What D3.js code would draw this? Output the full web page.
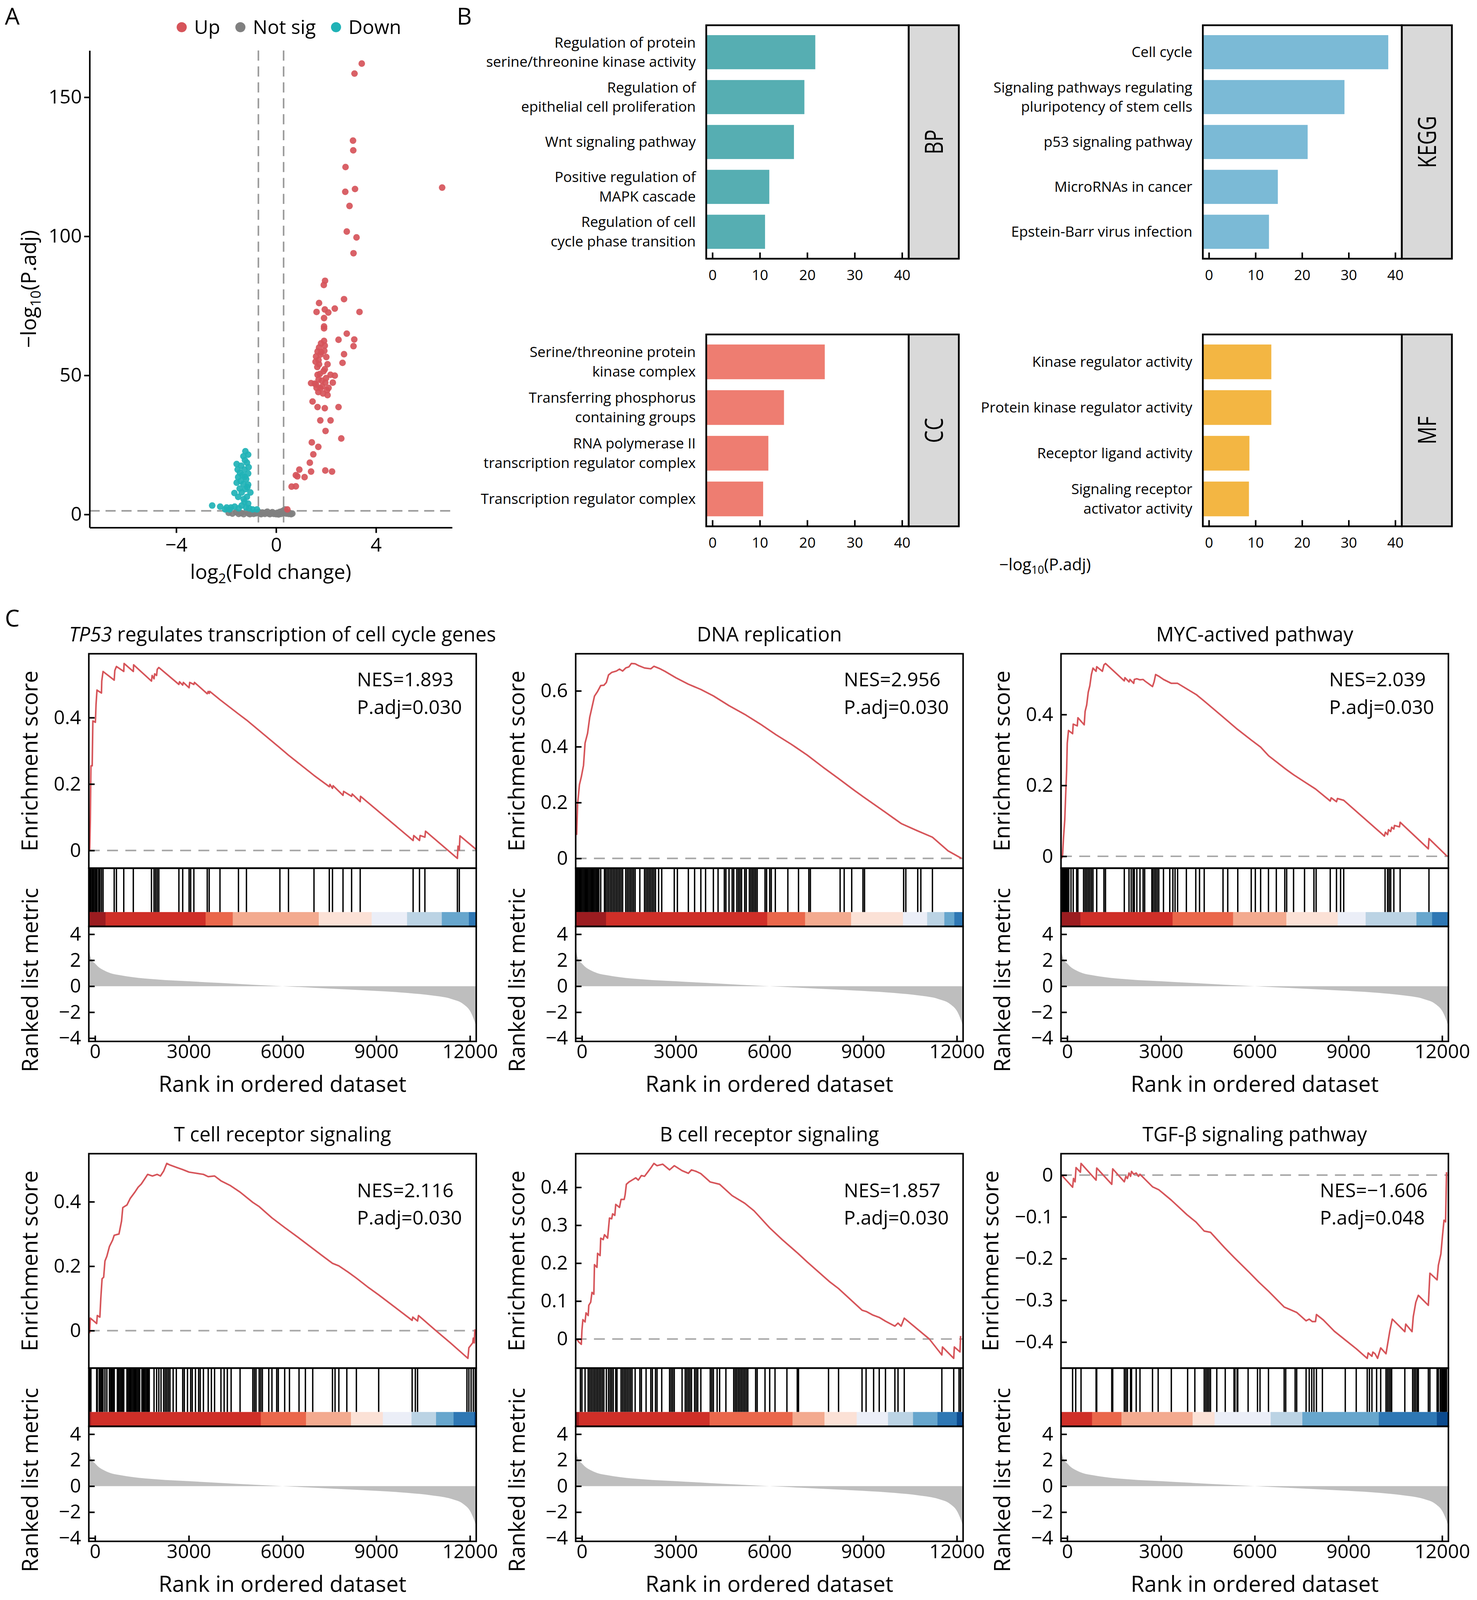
<!DOCTYPE html>
<html>
<head>
<meta charset="utf-8">
<script src="https://cdn.jsdelivr.net/npm/d3@7"></script>
<style>
  html, body { margin: 0; padding: 0; background: #fff; overflow: hidden; }
  #fig { display: block; width: 100vw; height: 100vh; }
  svg text { font-family: "Open Sans", sans-serif; fill: #000; }
</style>
</head>
<body>
<svg id="fig" viewBox="0 0 3780 4119" preserveAspectRatio="xMidYMin meet"></svg>
<script>
// ---------- A: volcano (log2 fold change, -log10 adjusted p) ----------
var volcanoUp = [
  [3.43,162.1],[3.14,158.5],[3.08,134.4],[3.09,130.9],[2.78,124.9],[6.65,117.5],[2.77,116.0],[3.16,117.0],
  [2.94,110.9],[2.83,101.7],[3.22,99.6],[3.10,93.9],[1.96,84.0],[1.91,82.5],[2.72,77.4],[1.72,76.0],
  [1.62,72.8],[1.95,73.7],[2.09,72.6],[2.35,74.0],[3.34,72.8],[1.92,70.6],[1.92,67.6],[1.92,66.9],
  [2.83,65.0],[2.50,62.8],[3.13,62.9],[1.92,62.4],[3.10,60.5],[1.72,60.0],[1.95,60.7],[1.66,58.6],
  [1.81,58.3],[1.60,56.8],[2.01,56.6],[1.58,54.9],[2.72,57.6],[1.72,54.0],[2.06,54.0],[2.66,54.5],
  [1.95,52.2],[1.66,50.2],[2.18,50.2],[2.35,49.9],[1.83,48.1],[1.40,47.2],[1.60,46.7],[1.97,47.4],
  [2.27,47.4],[1.77,45.4],[1.69,44.0],[2.04,44.7],[2.06,42.9],[1.46,40.6],[1.66,38.6],[1.95,38.2],
  [2.50,38.6],[1.77,33.8],[2.18,33.8],[1.98,30.0],[2.61,27.3],[1.43,25.9],[1.69,24.3],[1.49,21.6],
  [1.35,18.6],[0.93,16.1],[1.97,15.8],[2.24,15.4],[1.40,15.4],[0.79,14.1],[0.85,13.7],[1.14,13.4],
  [0.62,10.0],[0.79,10.1],[0.45,1.8],[1.75,50.5],[1.85,46.0],[1.55,47.0],[1.90,51.5],[1.70,55.5],
  [1.80,61.5],[1.65,53.0],[2.00,49.0],[1.88,43.5],[1.62,45.5],[1.78,57.5],[1.93,58.8],[2.10,45.5],[1.70,48.5]
];
var volcanoNotSig = [
  [-1.9,0.6],[-1.75,0.3],[-1.6,0.8],[-1.5,0.2],[-1.4,0.5],[-1.3,0.1],[-1.2,0.9],[-1.1,0.3],[-1.0,0.6],
  [-0.9,0.2],[-0.8,0.4],[-0.7,0.9],[-0.6,0.1],[-0.5,0.5],[-0.45,0.2],[-0.4,0.7],[-0.3,0.3],[-0.25,0.1],
  [-0.2,0.5],[-0.15,0.8],[-0.1,0.2],[-0.05,0.4],[0,0.1],[0.05,0.6],[0.1,0.3],[0.15,0.9],[0.2,0.2],
  [0.25,1.2],[0.3,0.5],[0.35,1.8],[0.4,0.3],[0.45,0.7],[0.5,0.2],[0.55,0.5],[0.6,0.1],[0.65,0.3],
  [-0.35,1.0],[-0.55,0.7],[-0.85,0.6],[-1.05,0.1],[0.1,0.0],[-0.65,0.3]
];
var volcanoDown = [
  [-1.23,22.7],[-1.12,21.5],[-1.31,20.9],[-1.58,18.1],[-1.17,18.6],[-1.40,17.5],[-1.54,16.1],[-1.27,16.1],
  [-1.12,14.7],[-1.35,14.1],[-1.52,13.4],[-1.20,12.7],[-1.58,11.4],[-1.31,10.9],[-1.12,10.7],[-1.46,9.3],
  [-1.23,9.1],[-1.67,7.7],[-1.38,7.9],[-1.03,7.9],[-1.52,6.3],[-1.17,6.3],[-1.27,4.5],[-1.12,3.9],
  [-1.38,3.2],[-1.20,2.5],[-1.08,2.2],[-0.94,1.8],[-0.77,1.8],[-2.56,3.2],[-2.24,2.8],[-1.98,2.5],
  [-1.81,2.5],[-1.66,2.8],[-1.50,2.2],[-1.87,1.8],[-2.04,1.8],[-1.25,19.5],[-1.42,12.0],[-1.10,17.0],
  [-1.30,5.5],[-1.15,9.8],[-1.45,15.0],[-1.25,13.5]
];
var volcanoFcCuts = [-0.71, 0.3];
var volcanoPadjCut = 1.3;
var volcanoXTicks = [-4, 0, 4];
var volcanoYTicks = [0, 50, 100, 150];
var volcanoLegend = ["Up", "Not sig", "Down"];

// ---------- B: enrichment bars (-log10 P.adj) ----------
var bpTerms = [["Regulation of protein", "serine/threonine kinase activity"], ["Regulation of", "epithelial cell proliferation"],
  ["Wnt signaling pathway"], ["Positive regulation of", "MAPK cascade"], ["Regulation of cell", "cycle phase transition"]];
var bpValues = [21.7, 19.4, 17.2, 12.0, 11.1];
var keggTerms = [["Cell cycle"], ["Signaling pathways regulating", "pluripotency of stem cells"], ["p53 signaling pathway"],
  ["MicroRNAs in cancer"], ["Epstein-Barr virus infection"]];
var keggValues = [38.5, 29.1, 21.2, 14.8, 12.9];
var ccTerms = [["Serine/threonine protein", "kinase complex"], ["Transferring phosphorus", "containing groups"],
  ["RNA polymerase II", "transcription regulator complex"], ["Transcription regulator complex"]];
var ccValues = [23.7, 15.1, 11.8, 10.7];
var mfTerms = [["Kinase regulator activity"], ["Protein kinase regulator activity"], ["Receptor ligand activity"],
  ["Signaling receptor", "activator activity"]];
var mfValues = [13.4, 13.4, 8.7, 8.6];
var enrichTicks = [0, 10, 20, 30, 40];

// ---------- C: GSEA ----------
var gseaTitles = ["TP53 regulates transcription of cell cycle genes", "DNA replication", "MYC-actived pathway",
  "T cell receptor signaling", "B cell receptor signaling", "TGF-\u03b2 signaling pathway"];
var gseaItalic = ["TP53", "", "", "", "", ""];
var gseaNES = [1.893, 2.956, 2.039, 2.116, 1.857, -1.606];
var gseaPadj = [0.030, 0.030, 0.030, 0.030, 0.030, 0.048];
var gseaEsTicks = [[0, 0.2, 0.4], [0, 0.2, 0.4, 0.6], [0, 0.2, 0.4], [0, 0.2, 0.4], [0, 0.1, 0.2, 0.3, 0.4], [0, -0.1, -0.2, -0.3, -0.4]];
var rankTicks = [0, 3000, 6000, 9000, 12000];
var metricTicks = [4, 2, 0, -2, -4];

// shared ranked list metric [rank, metric]
var rankMetric = [[-190,2.8],[-150,2.3],[-100,2.0],[0,1.75],[100,1.5],[300,1.2],[500,1.0],[800,0.85],[1200,0.7],
  [2000,0.52],[3000,0.38],[4000,0.25],[5000,0.12],[6000,0],[7000,-0.12],[8000,-0.24],[9000,-0.36],[10000,-0.52],
  [10800,-0.72],[11400,-0.98],[11800,-1.4],[12000,-1.9],[12100,-2.4],[12200,-3.1]];

// running enrichment score [rank, ES]
var es1 = [[-173,0],[-153,0.09],[-133,0.255],[-92,0.255],[-71,0.39],[10,0.386],[31,0.44],[61,0.483],[204,0.474],[214,0.51],
  [255,0.539],[612,0.513],[632,0.542],[683,0.554],[918,0.539],[928,0.563],[1224,0.539],[1234,0.559],[1805,0.51],[1826,0.527],
  [1887,0.517],[1907,0.532],[1969,0.527],[1989,0.545],[2040,0.551],[2683,0.5],[2703,0.508],[2805,0.498],[2825,0.506],
  [3009,0.49],[3029,0.506],[3162,0.5],[3182,0.506],[3590,0.472],[3621,0.479],[3652,0.473],[3672,0.479],[3998,0.454],
  [4590,0.411],[4845,0.393],[5916,0.309],[6191,0.287],[7007,0.226],[7497,0.192],[7517,0.199],[7599,0.187],[7619,0.195],
  [7936,0.166],[7956,0.178],[8211,0.163],[8231,0.17],[8486,0.147],[8497,0.163],[10180,0.03],[10200,0.045],[10384,0.03],
  [10404,0.045],[10557,0.04],[10577,0.058],[11597,-0.024],[11618,0.013],[11659,0.001],[11679,0.044],[12199,0.003]];
var es2 = [[-170,0.084],[-140,0.194],[-80,0.264],[-20,0.292],[50,0.333],[100,0.413],[180,0.448],[250,0.506],[321,0.541],
  [401,0.581],[501,0.598],[601,0.619],[701,0.62],[781,0.63],[851,0.657],[952,0.666],[1102,0.671],[1202,0.678],[1302,0.671],
  [1402,0.682],[1503,0.686],[1583,0.698],[1703,0.697],[1803,0.691],[2003,0.682],[2204,0.679],[2304,0.688],[2504,0.679],
  [2655,0.67],[3005,0.647],[3406,0.624],[3806,0.605],[4207,0.582],[4708,0.547],[5209,0.516],[5710,0.481],[6211,0.443],
  [6711,0.408],[7212,0.37],[7713,0.327],[8214,0.286],[8715,0.244],[9015,0.22],[9716,0.165],[10217,0.125],[10718,0.1],
  [11219,0.076],[11720,0.027],[12150,0.0]];
var es3 = [[-181,-0.006],[-150,0.003],[-120,0.052],[-80,0.102],[-50,0.174],[-20,0.242],[0,0.319],[40,0.355],[171,0.346],
  [191,0.373],[321,0.368],[341,0.391],[542,0.371],[572,0.409],[622,0.427],[672,0.463],[722,0.481],[773,0.513],[823,0.531],
  [923,0.522],[943,0.535],[1124,0.522],[1174,0.54],[1224,0.544],[1826,0.495],[1846,0.504],[1977,0.492],[2007,0.499],
  [2127,0.488],[2147,0.499],[2227,0.501],[2328,0.498],[2428,0.499],[2478,0.495],[2729,0.479],[2779,0.492],[2829,0.513],
  [2930,0.508],[3080,0.499],[3331,0.488],[3532,0.488],[3833,0.472],[4134,0.456],[4384,0.438],[4986,0.393],[5438,0.359],
  [5889,0.328],[6190,0.308],[6441,0.284],[6993,0.246],[7244,0.23],[7595,0.21],[7946,0.19],[8418,0.156],[8448,0.165],
  [8618,0.154],[8648,0.163],[8849,0.158],[10153,0.057],[10183,0.068],[10253,0.061],[10283,0.075],[10353,0.07],[10384,0.082],
  [10454,0.077],[10474,0.087],[10635,0.083],[10655,0.096],[11558,0.021],[11578,0.05],[12160,0.0]];
var es4 = [[-173,-0.008],[-153,0.039],[51,0.022],[71,0.047],[153,0.042],[184,0.101],[224,0.161],[275,0.166],[316,0.216],
  [377,0.231],[459,0.261],[561,0.281],[612,0.296],[765,0.3],[847,0.34],[887,0.382],[1020,0.39],[1122,0.41],[1275,0.43],
  [1377,0.445],[1479,0.455],[1581,0.47],[1683,0.485],[1836,0.48],[1989,0.485],[2091,0.48],[2193,0.495],[2295,0.519],
  [2397,0.514],[2601,0.507],[2805,0.5],[3009,0.492],[3468,0.485],[3621,0.478],[3825,0.48],[4029,0.465],[4335,0.45],
  [4641,0.43],[5049,0.398],[5253,0.385],[5661,0.35],[6069,0.32],[6477,0.291],[6885,0.261],[7293,0.231],[7599,0.209],
  [7803,0.201],[8109,0.181],[8364,0.163],[8721,0.136],[9078,0.111],[10149,0.032],[10169,0.042],[10322,0.03],[10353,0.047],
  [10863,0.004],[11373,-0.038],[11934,-0.086],[11965,-0.053],[12087,-0.038],[12107,-0.023],[12138,-0.038],[12158,0.004]];
var es5 = [[-170,0],[-100,-0.008],[-20,-0.014],[0,0.023],[30,0.051],[100,0.045],[130,0.069],[200,0.062],[220,0.089],
  [280,0.097],[321,0.123],[381,0.118],[401,0.196],[481,0.189],[501,0.226],[581,0.22],[601,0.266],[681,0.262],[721,0.275],
  [821,0.266],[851,0.292],[881,0.319],[952,0.317],[982,0.33],[1052,0.326],[1082,0.355],[1202,0.347],[1252,0.368],
  [1352,0.368],[1382,0.38],[1422,0.408],[1503,0.414],[1603,0.419],[1723,0.425],[1803,0.419],[1903,0.431],[2003,0.429],
  [2104,0.44],[2204,0.451],[2304,0.463],[2404,0.457],[2584,0.461],[2805,0.446],[2955,0.457],[3205,0.444],[3406,0.437],
  [3506,0.446],[3656,0.442],[3806,0.436],[4107,0.414],[4407,0.408],[4808,0.378],[5209,0.358],[5509,0.338],[6010,0.293],
  [6411,0.262],[6912,0.226],[7212,0.203],[7913,0.152],[8214,0.133],[8965,0.076],[9115,0.072],[9316,0.063],[9516,0.057],
  [9716,0.047],[10017,0.034],[10117,0.042],[10217,0.034],[10317,0.055],[11119,0],[11520,-0.042],[11540,-0.021],
  [11900,-0.051],[11920,-0.021],[12100,-0.034],[12120,0.008]];
var es6 = [[-181,0],[171,-0.029],[201,-0.008],[251,-0.016],[281,0.018],[421,0.007],[441,0.028],[923,-0.012],[943,0.017],
  [1425,-0.022],[1455,0.015],[1826,-0.016],[1876,-0.003],[1926,-0.008],[1977,0.005],[2027,-0.003],[2057,0.009],[2127,0.002],
  [2207,0.005],[2278,-0.003],[2328,0.002],[2729,-0.028],[2930,-0.035],[3331,-0.06],[3833,-0.095],[4114,-0.112],[4384,-0.134],
  [4585,-0.137],[5037,-0.174],[5338,-0.197],[5839,-0.234],[6140,-0.257],[6441,-0.278],[6943,-0.316],[7344,-0.329],
  [7645,-0.349],[7745,-0.345],[7846,-0.351],[7946,-0.351],[7976,-0.334],[8197,-0.347],[8548,-0.374],[8899,-0.395],
  [9250,-0.416],[9602,-0.439],[9632,-0.426],[9752,-0.434],[9782,-0.424],[9852,-0.428],[9933,-0.439],[10033,-0.414],
  [10203,-0.428],[10324,-0.374],[10404,-0.345],[10805,-0.375],[10835,-0.357],[11036,-0.375],[11076,-0.339],[11156,-0.305],
  [11237,-0.288],[11558,-0.312],[11608,-0.235],[11839,-0.251],[11879,-0.216],[11959,-0.189],[12009,-0.147],[12059,-0.108],
  [12110,-0.112],[12140,0.007]];

// gene set member positions in the ranked list
var hits1 = [-173,-133,-92,-71,-31,10,31,61,112,153,204,255,612,683,918,1224,1805,1887,1938,1989,2040,2683,2805,3009,3060,
  3162,3590,3652,3998,4590,4845,5916,6191,7007,7497,7599,7936,8211,8486,10180,10384,10557,11597,11659];
var hits2 = [-170,-140,-100,-60,-20,20,60,100,140,180,220,260,300,341,381,421,461,501,541,601,721,751,801,851,902,952,1002,
  1052,1102,1152,1202,1252,1302,1402,1452,1503,1553,1603,1653,1703,1853,2003,2053,2104,2154,2204,2254,2304,2354,2454,2554,
  2955,3055,3406,3606,3806,3957,4207,4357,4558,4608,4708,4808,4858,4958,5009,5059,5109,5209,5259,5359,5409,5459,5509,5559,
  5609,5860,5910,6010,6060,6190,6591,6932,7262,7312,8264,8394,8635,8995,9045,10297,10367,10748,10848,11219];
var hits3 = [-191,-161,-130,-100,-70,-40,-10,20,50,120,191,301,341,522,572,622,672,722,773,823,943,1174,1224,1826,1977,2047,
  2107,2147,2227,2328,2428,2478,2709,2729,2779,2829,2879,2930,3080,3281,3381,3451,3532,3813,4114,4234,4384,4986,5137,5458,
  5889,6020,6190,6441,6692,6963,7023,7244,7595,7896,7966,8418,8618,8749,8849,10173,10253,10303,10353,10454,10655,11578];
var hits4 = [-173,-133,51,71,133,173,214,255,316,377,459,500,541,581,612,714,755,796,836,877,918,1020,1061,1102,1142,1183,
  1224,1265,1306,1346,1387,1428,1499,1540,1581,1622,1663,1703,1734,1887,1969,2040,2111,2193,2244,2295,2346,2397,2499,2601,
  2805,2856,2958,3060,3111,3213,3315,3366,3468,3621,3723,3825,4029,4131,4233,4355,4641,5049,5100,5151,5253,5304,5355,5559,
  5661,5814,5865,6069,6222,6528,6732,6967,7599,7681,7803,8058,8364,9078,10149,10251,10322,11903,11965,12036,12107,12169];
var hits5 = [-50,0,100,200,250,300,351,401,451,501,551,601,651,701,781,851,902,952,1002,1082,1122,1252,1302,1352,1402,1452,
  1503,1553,1603,1703,1853,1903,2053,2204,2254,2354,2404,2554,2805,2855,2905,2955,3205,3306,3356,3406,3456,3506,3606,3656,
  3706,3806,4107,4157,4207,4327,4407,4608,4858,4908,4958,5009,5059,5109,5159,5209,5259,5309,5559,5609,5860,6010,6180,6561,
  6892,6932,7893,8214,8965,9095,9336,9516,9716,10017,10117,10317,11520,11900,12070,12120];
var hits6 = [171,271,441,923,943,1425,1455,1826,1876,1926,2027,2057,2207,2328,2729,2910,3331,3853,4084,4384,4435,4485,4535,
  4585,4786,5057,5338,5368,5438,5458,5789,6090,6170,6441,6943,6993,7294,7344,7645,7745,7826,7896,7976,8167,8899,9250,9602,
  9672,9752,9902,10033,10203,10253,10303,10353,10384,10805,11056,11106,11156,11207,11237,11558,11608,11839,11879,11939,
  11979,12009,12039,12059,12080,12110,12140];

// colour bar segments: [end rank, metric level]
var cbar1 = [[337,0],[3539,1],[4406,2],[7160,3],[8854,4],[9986,5],[11098,6],[11965,7],[12200,8]];
var cbar2 = [[771,0],[5930,1],[7142,2],[8615,3],[10277,4],[11049,5],[11600,6],[11920,7],[12200,8]];
var cbar3 = [[421,0],[3371,1],[5307,2],[7013,3],[8658,4],[9551,5],[11177,6],[11678,7],[12200,8]];
var cbar4 = [[-133,0],[5304,1],[6752,2],[8191,3],[9211,4],[10129,5],[10914,6],[11475,7],[12138,8],[12200,9]];
var cbar5 = [[-100,0],[4087,1],[6741,2],[7763,3],[8795,4],[9797,5],[10598,6],[11379,7],[12000,8],[12200,9]];
var cbar6 = [[793,1],[1736,2],[4013,3],[4716,4],[6511,5],[7525,6],[9973,7],[11829,8],[12200,9]];

var gseaES = [es1, es2, es3, es4, es5, es6];
var gseaHits = [hits1, hits2, hits3, hits4, hits5, hits6];
var gseaBars = [cbar1, cbar2, cbar3, cbar4, cbar5, cbar6];

// ---------- drawing ----------
var FONT = "'Open Sans', sans-serif";
var FONT_B = "Lato, sans-serif";
var levelColors = ["#9b1c20", "#cf2f28", "#ea674b", "#f3aa8f", "#fbe1d6", "#ebeef7", "#bbd3e4", "#67a6cd", "#2e77b4", "#0b4a8e"];

var svg = d3.select("#fig");
svg.append("rect").attr("width", 3780).attr("height", 4119).attr("fill", "#fff");

function styleAxis(g, size, family, keepDomain) {
  g.attr("font-size", size).attr("font-family", family);
  g.selectAll(".tick line").attr("stroke", "#000").attr("stroke-width", 4);
  g.selectAll("text").attr("fill", "#000");
  if (keepDomain) {
    g.select(".domain").attr("stroke", "#000").attr("stroke-width", 4);
  } else {
    g.select(".domain").remove();
  }
}

function subText(sel, parts, size) {
  // parts: [normal, sub, normal]
  sel.append("tspan").text(parts[0]);
  sel.append("tspan").attr("font-size", size * 0.68).attr("dy", size * 0.22).text(parts[1]);
  sel.append("tspan").attr("dy", -size * 0.22).text(parts[2]);
}

function panelLabel(t, x, y) {
  svg.append("text").attr("x", x).attr("y", y).attr("font-size", 60).text(t);
}

panelLabel("A", 2, 63);
panelLabel("B", 1165, 63);
panelLabel("C", 2, 1613);

// ----- A -----
(function drawVolcano() {
  var g = svg.append("g");
  var x = d3.scaleLinear().domain([-7.47, 7.05]).range([220, 1153]);
  var y = d3.scaleLinear().domain([-4.7, 166.8]).range([1358, 130]);

  g.selectAll(".vcut")
    .data(volcanoFcCuts)
    .join("line")
    .attr("x1", function(d) { return x(d); })
    .attr("x2", function(d) { return x(d); })
    .attr("y1", y.range()[1])
    .attr("y2", y.range()[0])
    .attr("stroke", "#9a9a9a").attr("stroke-width", 4).attr("stroke-dasharray", "26,15");
  g.append("line")
    .attr("x1", x.range()[0]).attr("x2", x.range()[1])
    .attr("y1", y(volcanoPadjCut)).attr("y2", y(volcanoPadjCut))
    .attr("stroke", "#9a9a9a").attr("stroke-width", 4).attr("stroke-dasharray", "26,15");

  var groups = [[volcanoNotSig, "#808080"], [volcanoDown, "#20b2b6"], [volcanoUp, "#d6545a"]];
  groups.forEach(function(gr) {
    g.append("g").selectAll("circle")
      .data(gr[0])
      .join("circle")
      .attr("cx", function(d) { return x(d[0]); })
      .attr("cy", function(d) { return y(d[1]); })
      .attr("r", 8.5)
      .attr("fill", gr[1])
      .attr("fill-opacity", 0.92);
  });

  var ax = g.append("g").attr("transform", "translate(220,0)")
    .call(d3.axisLeft(y).tickValues(volcanoYTicks).tickSize(14).tickSizeOuter(0).tickPadding(6));
  styleAxis(ax, 50, FONT, true);
  var bx = g.append("g").attr("transform", "translate(0,1358)")
    .call(d3.axisBottom(x).tickValues(volcanoXTicks).tickSize(14).tickSizeOuter(0).tickPadding(12));
  styleAxis(bx, 50, FONT, true);

  var yt = g.append("text")
    .attr("transform", "translate(63,744) rotate(-90)")
    .attr("text-anchor", "middle").attr("dy", "0.35em").attr("font-size", 54);
  subText(yt, ["\u2212log", "10", "(P.adj)"], 54);
  var xt = g.append("text")
    .attr("x", 686).attr("y", 1490)
    .attr("text-anchor", "middle").attr("font-size", 52);
  subText(xt, ["log", "2", "(Fold change)"], 52);

  // legend
  var legColors = ["#d6545a", "#808080", "#20b2b6"];
  var cx = 457;
  volcanoLegend.forEach(function(name, i) {
    g.append("circle").attr("cx", cx).attr("cy", 70).attr("r", 13).attr("fill", legColors[i]);
    var t = g.append("text").attr("x", cx + 32).attr("y", 70).attr("dy", "0.35em").attr("font-size", 50).text(name);
    cx = cx + 32 + t.node().getComputedTextLength() + 52;
  });
})();

// ----- B -----
function drawEnrich(terms, values, color, strip, left, top, width, height) {
  var g = svg.append("g");
  var stripW = 129;
  var x = d3.scaleLinear().domain([-1.3, 41.4]).range([left, left + width]);
  var y = d3.scaleBand().domain(d3.range(values.length)).range([top, top + height])
    .paddingInner(0.24).paddingOuter(0.22);

  g.selectAll(".bar")
    .data(values)
    .join("rect")
    .attr("x", x.range()[0])
    .attr("y", function(d, i) { return y(i); })
    .attr("width", function(d) { return x(d) - x.range()[0]; })
    .attr("height", y.bandwidth())
    .attr("fill", color);

  terms.forEach(function(lines, i) {
    var cy = y(i) + y.bandwidth() / 2;
    lines.forEach(function(line, j) {
      g.append("text")
        .attr("x", left - 27)
        .attr("y", cy + (j - (lines.length - 1) / 2) * 50)
        .attr("dy", "0.35em")
        .attr("text-anchor", "end")
        .attr("font-family", FONT_B)
        .attr("font-size", 37)
        .text(line);
    });
  });

  var ax = g.append("g").attr("transform", "translate(0," + (top + height) + ")")
    .call(d3.axisBottom(x).tickValues(enrichTicks).tickSize(-16).tickPadding(29));
  styleAxis(ax, 37, FONT_B, false);

  g.append("rect")
    .attr("x", left + width).attr("y", top).attr("width", stripW).attr("height", height)
    .attr("fill", "#d9d9d9").attr("stroke", "#000").attr("stroke-width", 4.5);
  g.append("rect")
    .attr("x", left).attr("y", top).attr("width", width).attr("height", height)
    .attr("fill", "none").attr("stroke", "#000").attr("stroke-width", 4.5);
  g.append("text")
    .attr("transform", "translate(" + (left + width + stripW / 2) + "," + (top + height / 2) + ") rotate(-90) scale(0.8,1)")
    .attr("text-anchor", "middle").attr("dy", "0.36em")
    .attr("font-size", 64)
    .text(strip);
}

drawEnrich(bpTerms, bpValues, "#56aeb2", "BP", 1807, 65, 521, 601);
drawEnrich(keggTerms, keggValues, "#7bbad6", "KEGG", 3085, 65, 512, 601);
drawEnrich(ccTerms, ccValues, "#ee7d71", "CC", 1807, 861, 521, 494);
drawEnrich(mfTerms, mfValues, "#f3b643", "MF", 3085, 861, 512, 494);

var bTitle = svg.append("text").attr("x", 2561).attr("y", 1468)
  .attr("font-family", FONT_B).attr("font-size", 42);
subText(bTitle, ["\u2212log", "10", "(P.adj)"], 42);

// ----- C -----
var gseaCols = [218, 1471, 2720];
var gseaRows = [1683, 2970];

function drawGsea(i) {
  var col = i % 3, row = Math.floor(i / 3);
  var left = gseaCols[col], top = gseaRows[row];
  var W = 997, hES = 552, hHit = 113, hBar = 37, hRank = 296;
  var yHit = top + hES, yBar = yHit + hHit, yRank = yBar + hBar, yEnd = yRank + hRank;
  var g = svg.append("g");

  var x = d3.scaleLinear().domain([-200, 12200]).range([left, left + W]);
  var es = gseaES[i];
  var ext = d3.extent(es, function(d) { return d[1]; });
  var pad = (ext[1] - ext[0]) * 0.05;
  var y = d3.scaleLinear().domain([ext[0] - pad, ext[1] + pad]).range([yHit, top]);
  var yr = d3.scaleLinear().domain([-4.25, 4.6]).range([yEnd, yRank]);

  // running score
  g.append("line")
    .attr("x1", left).attr("x2", left + W).attr("y1", y(0)).attr("y2", y(0))
    .attr("stroke", "#a6a6a6").attr("stroke-width", 4).attr("stroke-dasharray", "28,19");
  g.append("path")
    .datum(es)
    .attr("d", d3.line().x(function(d) { return x(d[0]); }).y(function(d) { return y(d[1]); }))
    .attr("fill", "none").attr("stroke", "#d65459").attr("stroke-width", 4).attr("stroke-linejoin", "round");

  // hits
  g.selectAll(".hit")
    .data(gseaHits[i])
    .join("line")
    .attr("x1", function(d) { return x(d); })
    .attr("x2", function(d) { return x(d); })
    .attr("y1", yHit).attr("y2", yBar)
    .attr("stroke", "#000").attr("stroke-width", 3.5);

  // colour bar
  var prev = x.domain()[0];
  var segs = gseaBars[i].map(function(s) {
    var seg = { from: prev, to: s[0], level: s[1] };
    prev = s[0];
    return seg;
  });
  g.selectAll(".seg")
    .data(segs)
    .join("rect")
    .attr("x", function(d) { return x(d.from); })
    .attr("y", yBar)
    .attr("width", function(d) { return x(d.to) - x(d.from) + 0.6; })
    .attr("height", hBar)
    .attr("fill", function(d) { return levelColors[d.level]; });

  // ranked list metric
  g.append("path")
    .datum(rankMetric)
    .attr("d", d3.area()
      .x(function(d) { return x(d[0]); })
      .y0(yr(0))
      .y1(function(d) { return yr(d[1]); })
      .curve(d3.curveMonotoneX))
    .attr("fill", "#bebebe");

  // frames
  [[top, yHit], [yHit, yRank], [yRank, yEnd]].forEach(function(b) {
    g.append("rect").attr("x", left).attr("y", b[0]).attr("width", W).attr("height", b[1] - b[0])
      .attr("fill", "none").attr("stroke", "#000").attr("stroke-width", 4);
  });

  // axes
  var esFmt = function(d) { return d === 0 ? "0" : d3.format(".1f")(d); };
  var ay = g.append("g").attr("transform", "translate(" + left + ",0)")
    .call(d3.axisLeft(y).tickValues(gseaEsTicks[i]).tickSize(-15).tickPadding(20).tickFormat(esFmt));
  styleAxis(ay, 50, FONT, false);
  var ar = g.append("g").attr("transform", "translate(" + left + ",0)")
    .call(d3.axisLeft(yr).tickValues(metricTicks).tickSize(-15).tickPadding(20).tickFormat(d3.format("d")));
  styleAxis(ar, 50, FONT, false);
  var ax = g.append("g").attr("transform", "translate(0," + yEnd + ")")
    .call(d3.axisBottom(x).tickValues(rankTicks).tickSize(-15).tickPadding(8).tickFormat(d3.format("d")));
  styleAxis(ax, 50, FONT, false);

  // titles
  var t = g.append("text").attr("x", left + W / 2).attr("y", top - 32)
    .attr("text-anchor", "middle").attr("font-size", 51);
  if (gseaItalic[i]) {
    t.append("tspan").attr("font-style", "italic").text(gseaItalic[i]);
    t.append("tspan").text(gseaTitles[i].slice(gseaItalic[i].length));
  } else {
    t.text(gseaTitles[i]);
  }

  var eb = ay.node().getBBox();
  g.append("text")
    .attr("transform", "translate(" + (left + eb.x - 62) + "," + (top + hES / 2) + ") rotate(-90)")
    .attr("text-anchor", "middle").attr("dy", "0.35em").attr("font-size", 57)
    .text("Enrichment score");
  var rb = ar.node().getBBox();
  g.append("text")
    .attr("transform", "translate(" + (left + rb.x - 74) + "," + (top + 840) + ") rotate(-90)")
    .attr("text-anchor", "middle").attr("dy", "0.35em").attr("font-size", 57)
    .text("Ranked list metric");
  g.append("text")
    .attr("x", left + W / 2).attr("y", top + 1128)
    .attr("text-anchor", "middle").attr("font-size", 57)
    .text("Rank in ordered dataset");

  var nx = left + 690 - (gseaNES[i] < 0 ? 24 : 0);
  var ny = row === 0 ? 84 : 112;
  g.append("text").attr("x", nx).attr("y", top + ny).attr("font-size", 50)
    .text("NES=" + d3.format(".3f")(gseaNES[i]));
  g.append("text").attr("x", nx).attr("y", top + ny + 71).attr("font-size", 50)
    .text("P.adj=" + d3.format(".3f")(gseaPadj[i]));
}

for (var k = 0; k < 6; k++) drawGsea(k);
</script>
</body>
</html>
